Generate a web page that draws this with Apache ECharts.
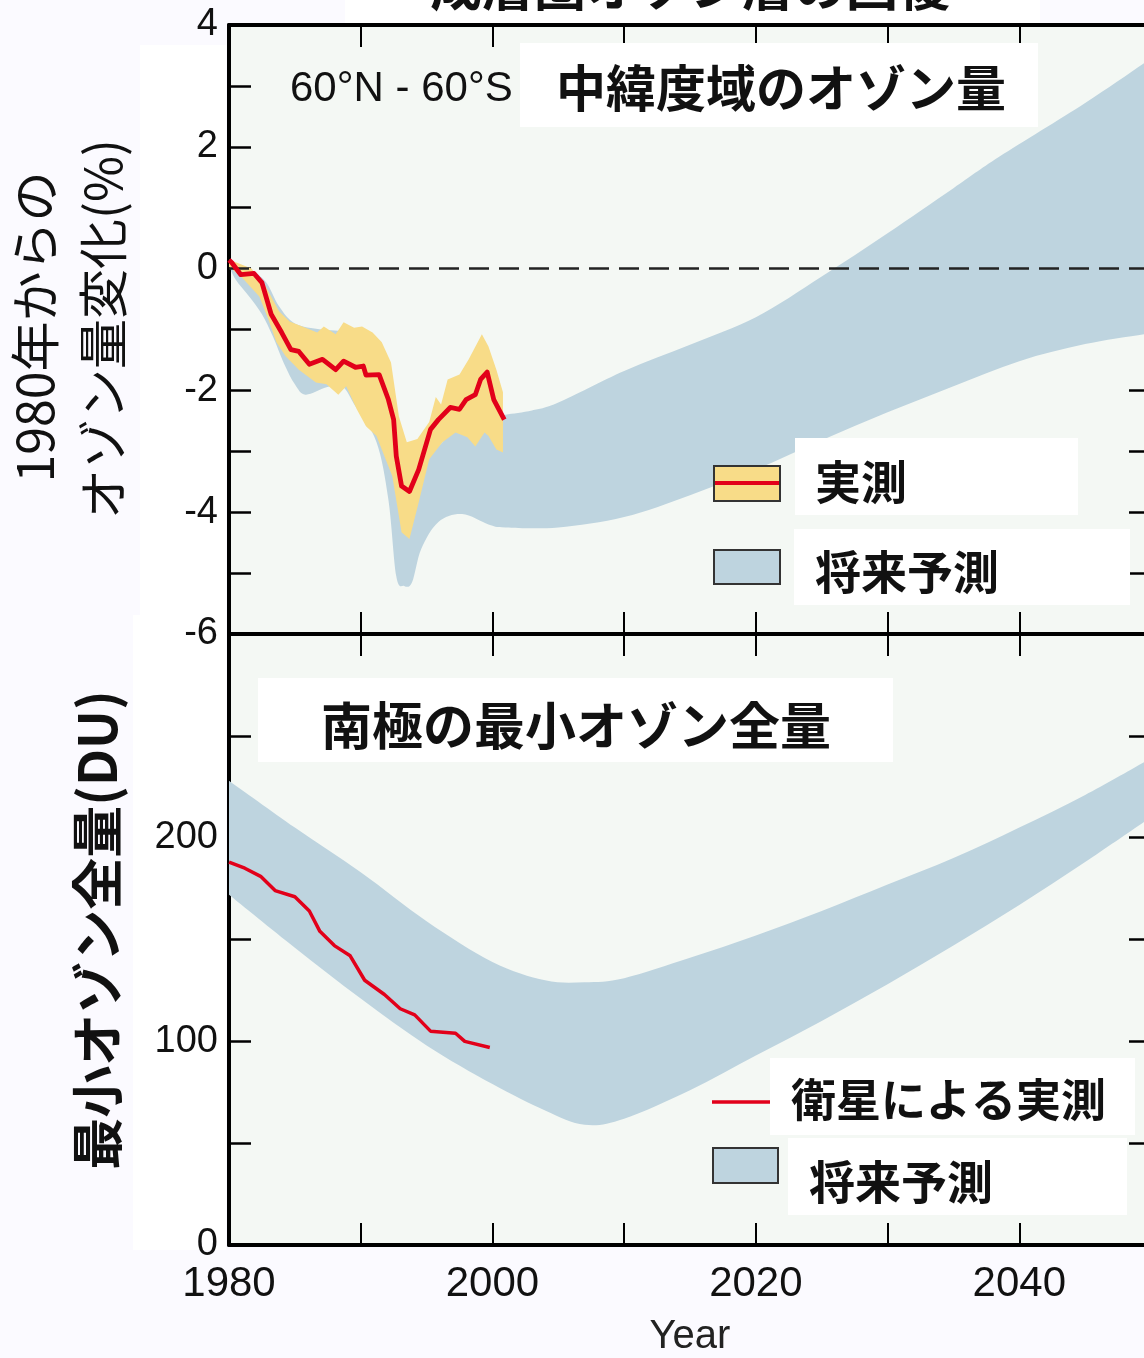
<!DOCTYPE html>
<html>
<head>
<meta charset="utf-8">
<script src="https://cdn.jsdelivr.net/npm/echarts@6/dist/echarts.min.js"></script>
<style>
  html, body { margin: 0; padding: 0; background: #fbfaff; }
  #chart { width: 1144px; height: 1358px; }
</style>
</head>
<body>
<div id="chart"></div>
<script>
// ---- Upper panel: mid-latitude (60°N-60°S) ozone change since 1980, % ----
const obsYears = [1980.0, 1980.2, 1980.9, 1981.9, 1982.5, 1983.2, 1984.0, 1984.7, 1985.3, 1986.1,
  1987.1, 1988.1, 1988.7, 1989.6, 1990.2, 1990.4, 1991.4, 1992.1, 1992.5, 1992.7, 1993.1, 1993.7,
  1994.4, 1995.3, 1995.9, 1996.8, 1997.5, 1998.0, 1998.7, 1999.1, 1999.6, 2000.1, 2000.9];
const obsMid = [0.14, 0.1, -0.1, -0.08, -0.23, -0.75, -1.05, -1.33, -1.36, -1.57,
  -1.49, -1.66, -1.52, -1.62, -1.6, -1.75, -1.74, -2.15, -2.48, -3.08, -3.57, -3.66,
  -3.3, -2.64, -2.48, -2.28, -2.31, -2.15, -2.07, -1.82, -1.7, -2.15, -2.48];

// observed range (yellow band): upper and lower edges as [year, %]
const obsHighEdge = [[1980, 0.15], [1981.7, 0], [1982.8, -0.3], [1983.8, -0.7], [1984.6, -0.87],
  [1985.8, -0.97], [1986.7, -1.05], [1987.2, -0.95], [1988.1, -1.08], [1988.7, -0.88], [1989.5, -0.97],
  [1990.1, -0.95], [1990.9, -1.05], [1991.6, -1.21], [1992.3, -1.54], [1992.9, -2.43], [1993.5, -2.85],
  [1994.3, -2.8], [1995.2, -2.52], [1995.7, -2.11], [1996.1, -2.23], [1996.6, -1.82], [1997.5, -1.74],
  [1998.2, -1.49], [1999.2, -1.08], [1999.7, -1.28], [2000.3, -1.66], [2000.8, -2.03]];
const obsLowEdge = [[1980, 0.03], [1981, -0.15], [1982.3, -0.46], [1983, -0.84], [1983.6, -1.21],
  [1984.3, -1.44], [1985.3, -1.66], [1986.6, -1.87], [1987.4, -1.9], [1988.3, -2.07], [1988.9, -1.93],
  [1989.7, -2.31], [1990.4, -2.59], [1991.2, -2.75], [1991.6, -2.97], [1992.4, -3.41], [1993.1, -4.33],
  [1993.7, -4.44], [1994.4, -3.84], [1995.2, -3.13], [1996.2, -2.85], [1997.2, -2.69], [1998.1, -2.77],
  [1998.7, -2.92], [1999.4, -2.69], [1999.7, -2.75], [2000.3, -2.97], [2000.8, -3.02]];

// model projection (blue band): upper and lower edges as [year, %]
const projHighEdge = [[1980, 0.12], [1981.5, 0.0], [1982.8, -0.22], [1983.8, -0.62], [1985, -0.9],
  [1987, -1.0], [1989, -1.05], [1990.5, -1.3], [1991.5, -1.9], [1992.5, -2.6], [1993.5, -3.3],
  [1994.5, -3.4], [1995.3, -3.08], [1996.2, -2.85], [1997, -2.69], [1998.5, -2.55], [2000, -2.45],
  [2001, -2.4], [2003, -2.33], [2005, -2.2], [2010, -1.68], [2015, -1.25], [2020, -0.8], [2025, -0.13],
  [2030, 0.58], [2035, 1.32], [2038.5, 1.84], [2045, 2.72], [2050, 3.45]];
const projLowEdge = [[1980, 0.05], [1980.5, -0.18], [1981.5, -0.45], [1982.5, -0.75], [1983.3, -1.1],
  [1984.2, -1.57], [1985, -1.9], [1985.8, -2.07], [1987.4, -1.95], [1988.6, -1.93], [1989.6, -2.26],
  [1991.2, -2.85], [1992.1, -3.79], [1992.7, -5.05], [1993.3, -5.21], [1993.9, -5.15], [1994.6, -4.6],
  [1995.9, -4.16], [1997.7, -4.03], [1999.7, -4.2], [2001, -4.25], [2005, -4.25], [2010, -4.08],
  [2015, -3.72], [2020, -3.3], [2025, -2.82], [2030, -2.36], [2035, -1.93], [2040, -1.52],
  [2045, -1.24], [2050, -1.06]];

const zeroLine = [[1980, 0], [2050, 0]];

// ---- Lower panel: Antarctic minimum total ozone, DU ----
const satYears = [1980, 1981.2, 1982.4, 1983.5, 1985, 1986.1, 1986.9, 1988, 1989.2, 1990.3,
  1991.8, 1993, 1994.1, 1995.3, 1997.2, 1997.9, 1999.8];
const satDU = [188, 185, 181, 174, 171, 164, 154, 147, 142, 130, 123, 116, 113, 105, 104, 100, 97];

const polarHighEdge = [[1980, 228], [1985, 205], [1990, 183], [1995, 159], [2000, 139], [2004, 130],
  [2007, 129], [2010, 131], [2015, 141], [2020, 152], [2025, 164], [2030, 177], [2035, 190],
  [2040, 205], [2045, 221], [2050, 239]];
const polarLowEdge = [[1980, 172], [1985, 146], [1990, 121], [1995, 98], [2000, 79], [2004, 66],
  [2007, 59], [2010, 62], [2015, 76], [2020, 93], [2025, 110], [2030, 128],
  [2035, 147], [2040, 167], [2045, 188], [2050, 210]];

const yearTicks = [1980, 2000, 2020, 2040];

const RED = '#e2001a', YELLOW = '#f8dc88', BLUE = '#bed4df', INK = '#111';
const JP = '"Noto Sans CJK JP", sans-serif';
const LAT = '"Liberation Sans", Arial, sans-serif';

function pairs(xs, ys) { return xs.map((x, i) => [x, ys[i]]); }

// Catmull-Rom curve through pixel points, as SVG path commands (no leading move)
function curveCmds(pts) {
  let d = '';
  for (let i = 0; i < pts.length - 1; i++) {
    const p0 = pts[Math.max(i - 1, 0)], p1 = pts[i], p2 = pts[i + 1], p3 = pts[Math.min(i + 2, pts.length - 1)];
    const c1 = [p1[0] + (p2[0] - p0[0]) / 6, p1[1] + (p2[1] - p0[1]) / 6];
    const c2 = [p2[0] - (p3[0] - p1[0]) / 6, p2[1] - (p3[1] - p1[1]) / 6];
    d += ' C' + c1[0] + ' ' + c1[1] + ' ' + c2[0] + ' ' + c2[1] + ' ' + p2[0] + ' ' + p2[1];
  }
  return d;
}

// filled band between two edges, drawn through the axis scales
function band(xi, yi, upper, lower, color, z, smooth) {
  return {
    type: 'custom', xAxisIndex: xi, yAxisIndex: yi, clip: true, silent: true, z: z,
    data: [[upper[0][0], upper[0][1]]],
    renderItem: function (params, api) {
      const up = upper.map(p => api.coord(p));
      const lo = lower.slice().reverse().map(p => api.coord(p));
      if (!smooth) {
        return { type: 'polygon', shape: { points: up.concat(lo) }, style: { fill: color } };
      }
      const d = 'M' + up[0][0] + ' ' + up[0][1] + curveCmds(up) +
        ' L' + lo[0][0] + ' ' + lo[0][1] + curveCmds(lo) + ' Z';
      return { type: 'path', shape: { pathData: d }, style: { fill: color } };
    }
  };
}

function xAxisCfg(grid, pos, labels) {
  return {
    type: 'value', gridIndex: grid, position: pos, min: 1980, max: 2050, interval: 10,
    splitLine: { show: false },
    axisLine: { show: true, onZero: false, lineStyle: { color: '#000', width: 4 } },
    axisTick: { show: true, inside: true, length: 22, lineStyle: { color: '#000', width: 2 } },
    axisLabel: labels ? {
      show: true, margin: 18, fontSize: 42, fontFamily: LAT, color: INK,
      formatter: v => yearTicks.indexOf(v) >= 0 ? String(v) : ''
    } : { show: false },
    name: labels ? 'Year' : '', nameLocation: 'middle', nameGap: 72,
    nameTextStyle: { fontSize: 40, fontFamily: LAT, color: '#222' }
  };
}

function yAxisCfg(grid, pos, min, max, step, fmt) {
  return {
    type: 'value', gridIndex: grid, position: pos, min: min, max: max, interval: step,
    splitLine: { show: false },
    axisLine: { show: true, onZero: false, lineStyle: { color: '#000', width: 4 } },
    axisTick: { show: true, inside: true, length: 22, lineStyle: { color: '#000', width: 2.5 } },
    axisLabel: fmt ? { show: true, margin: 11, fontSize: 38, fontFamily: LAT, color: INK, formatter: fmt }
                   : { show: false }
  };
}

function textBox(x, y, w, h) {
  return { type: 'rect', z: 100, shape: { x: x, y: y, width: w, height: h }, style: { fill: '#ffffff' } };
}
function label(x, y, text, font, align, rot) {
  return {
    type: 'text', z: 101, x: x, y: y, rotation: rot || 0,
    style: { text: text, font: font, fill: INK, align: align || 'left', verticalAlign: 'middle' }
  };
}

const chart = echarts.init(document.getElementById('chart'), null, { renderer: 'canvas' });

chart.setOption({
  backgroundColor: '#fbfaff',
  animation: false,
  grid: [
    { left: 229, top: 25, width: 922, height: 609, show: true, backgroundColor: '#f4f8f4', borderWidth: 0,
      containLabel: false, outerBoundsMode: 'none' },
    { left: 229, top: 634, width: 922, height: 611, show: true, backgroundColor: '#f4f8f4', borderWidth: 0,
      containLabel: false, outerBoundsMode: 'none' }
  ],
  xAxis: [
    xAxisCfg(0, 'bottom', false),
    xAxisCfg(0, 'top', false),
    xAxisCfg(1, 'bottom', true),
    xAxisCfg(1, 'top', false)
  ],
  yAxis: [
    yAxisCfg(0, 'left', -6, 4, 1, v => (v % 2 === 0 ? String(v) : '')),
    yAxisCfg(0, 'right', -6, 4, 1, null),
    yAxisCfg(1, 'left', 0, 300, 50, v => (v % 100 === 0 && v < 300 ? String(v) : '')),
    yAxisCfg(1, 'right', 0, 300, 50, null)
  ],
  series: [
    band(0, 0, projHighEdge, projLowEdge, BLUE, 1, true),
    band(0, 0, obsHighEdge, obsLowEdge, YELLOW, 2, false),
    {
      type: 'line', xAxisIndex: 0, yAxisIndex: 0, data: zeroLine, showSymbol: false, silent: true, z: 3,
      lineStyle: { color: '#222', width: 2.5, type: [20, 10] }
    },
    {
      type: 'line', xAxisIndex: 0, yAxisIndex: 0, data: pairs(obsYears, obsMid), showSymbol: false,
      silent: true, z: 4, lineStyle: { color: RED, width: 4.8, join: 'round' }
    },
    band(2, 2, polarHighEdge, polarLowEdge, BLUE, 1, true),
    {
      type: 'line', xAxisIndex: 2, yAxisIndex: 2, data: pairs(satYears, satDU), showSymbol: false,
      silent: true, z: 4, lineStyle: { color: RED, width: 3.5, join: 'round' }
    }
  ],
  graphic: [
    // white panels behind the headline and the axis titles
    { type: 'rect', z: -1, shape: { x: 345, y: 0, width: 695, height: 23 }, style: { fill: '#ffffff' } },
    { type: 'rect', z: -1, shape: { x: 140, y: 45, width: 86, height: 570 }, style: { fill: '#ffffff' } },
    { type: 'rect', z: -1, shape: { x: 133, y: 615, width: 93, height: 635 }, style: { fill: '#ffffff' } },
    label(690, -14, '成層圏オゾン層の回復', 'bold 52px ' + JP, 'center'),

    // axis titles
    label(35, 327, '1980年からの', '50px ' + JP, 'center', Math.PI / 2),
    label(103, 329, 'オゾン量変化(%)', '50px ' + JP, 'center', Math.PI / 2),
    label(97, 930, '最小オゾン全量(DU)', 'bold 52px ' + JP, 'center', Math.PI / 2),

    // upper panel headings
    label(290, 89, '60°N - 60°S', '42px ' + LAT, 'left'),
    textBox(520, 43, 518, 84),
    label(781, 88, '中緯度域のオゾン量', 'bold 50px ' + JP, 'center'),

    // upper panel key
    textBox(795, 438, 283, 77),
    label(815, 482, '実測', 'bold 46px ' + JP, 'left'),
    textBox(794, 529, 336, 76),
    label(815, 572, '将来予測', 'bold 46px ' + JP, 'left'),
    { type: 'rect', z: 101, shape: { x: 714, y: 466, width: 66, height: 35 },
      style: { fill: YELLOW, stroke: '#333', lineWidth: 2 } },
    { type: 'line', z: 102, shape: { x1: 715, y1: 483, x2: 779, y2: 483 },
      style: { stroke: RED, lineWidth: 4 } },
    { type: 'rect', z: 101, shape: { x: 714, y: 550, width: 66, height: 34 },
      style: { fill: BLUE, stroke: '#333', lineWidth: 2 } },

    // lower panel heading
    textBox(258, 678, 635, 84),
    label(576, 726, '南極の最小オゾン全量', 'bold 51px ' + JP, 'center'),

    // lower panel key
    textBox(770, 1058, 365, 77),
    label(791, 1100, '衛星による実測', 'bold 45px ' + JP, 'left'),
    { type: 'line', z: 101, shape: { x1: 712, y1: 1102, x2: 770, y2: 1102 },
      style: { stroke: RED, lineWidth: 3.5 } },
    textBox(788, 1138, 339, 77),
    label(809, 1182, '将来予測', 'bold 46px ' + JP, 'left'),
    { type: 'rect', z: 101, shape: { x: 713, y: 1148, width: 65, height: 35 },
      style: { fill: BLUE, stroke: '#333', lineWidth: 2 } }
  ]
});
</script>
</body>
</html>
